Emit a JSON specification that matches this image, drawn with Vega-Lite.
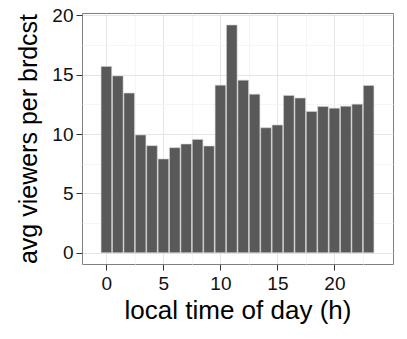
{
  "$schema": "https://vega.github.io/schema/vega-lite/v6.json",
  "autosize": "none",
  "width": 311,
  "height": 251,
  "padding": {"left": 82, "top": 13, "right": 14, "bottom": 75},
  "background": "white",
  "config": {
    "font": "Liberation Sans",
    "view": {"stroke": "#7F7F7F", "strokeWidth": 1},
    "axis": {
      "domain": false,
      "tickColor": "#333333",
      "tickSize": 6,
      "tickWidth": 1,
      "labelColor": "#111111",
      "labelFontSize": 19,
      "titleColor": "#000000",
      "titleFontWeight": "normal",
      "gridWidth": 1
    }
  },
  "data": {
    "values": [
      {"hour": 0, "viewers": 15.7},
      {"hour": 1, "viewers": 14.9},
      {"hour": 2, "viewers": 13.45},
      {"hour": 3, "viewers": 9.92},
      {"hour": 4, "viewers": 9.02},
      {"hour": 5, "viewers": 7.9},
      {"hour": 6, "viewers": 8.85},
      {"hour": 7, "viewers": 9.16},
      {"hour": 8, "viewers": 9.55},
      {"hour": 9, "viewers": 8.99},
      {"hour": 10, "viewers": 14.12},
      {"hour": 11, "viewers": 19.19},
      {"hour": 12, "viewers": 14.54},
      {"hour": 13, "viewers": 13.36},
      {"hour": 14, "viewers": 10.53},
      {"hour": 15, "viewers": 10.76},
      {"hour": 16, "viewers": 13.25},
      {"hour": 17, "viewers": 13.03},
      {"hour": 18, "viewers": 11.9},
      {"hour": 19, "viewers": 12.32},
      {"hour": 20, "viewers": 12.18},
      {"hour": 21, "viewers": 12.35},
      {"hour": 22, "viewers": 12.52},
      {"hour": 23, "viewers": 14.09}
    ]
  },
  "mark": {"type": "bar", "size": 10.6, "fill": "#595959", "stroke": "#D0D0D0", "strokeWidth": 0.6},
  "encoding": {
    "x": {
      "field": "hour",
      "type": "quantitative",
      "scale": {"domain": [-1.7, 24.7], "nice": false, "zero": false},
      "axis": {
        "title": "local time of day (h)",
        "titleFontSize": 26,
        "titlePadding": 4,
        "labelPadding": 4,
        "values": [0, 2.5, 5, 7.5, 10, 12.5, 15, 17.5, 20, 22.5],
        "labelExpr": "datum.value % 5 === 0 ? datum.label : ''",
        "tickOpacity": {"condition": {"test": "datum.value % 5 === 0", "value": 1}, "value": 0},
        "gridColor": {"condition": {"test": "datum.value % 5 === 0", "value": "#E5E5E5"}, "value": "#F5F5F5"}
      }
    },
    "y": {
      "field": "viewers",
      "type": "quantitative",
      "scale": {"domain": [-0.95, 20.2], "nice": false, "zero": false},
      "axis": {
        "title": "avg viewers per brdcst",
        "titleFontSize": 25,
        "titlePadding": 10,
        "labelPadding": 3,
        "values": [0, 2.5, 5, 7.5, 10, 12.5, 15, 17.5, 20],
        "labelExpr": "datum.value % 5 === 0 ? datum.label : ''",
        "tickOpacity": {"condition": {"test": "datum.value % 5 === 0", "value": 1}, "value": 0},
        "gridColor": {"condition": {"test": "datum.value % 5 === 0", "value": "#E5E5E5"}, "value": "#F5F5F5"}
      }
    }
  }
}
